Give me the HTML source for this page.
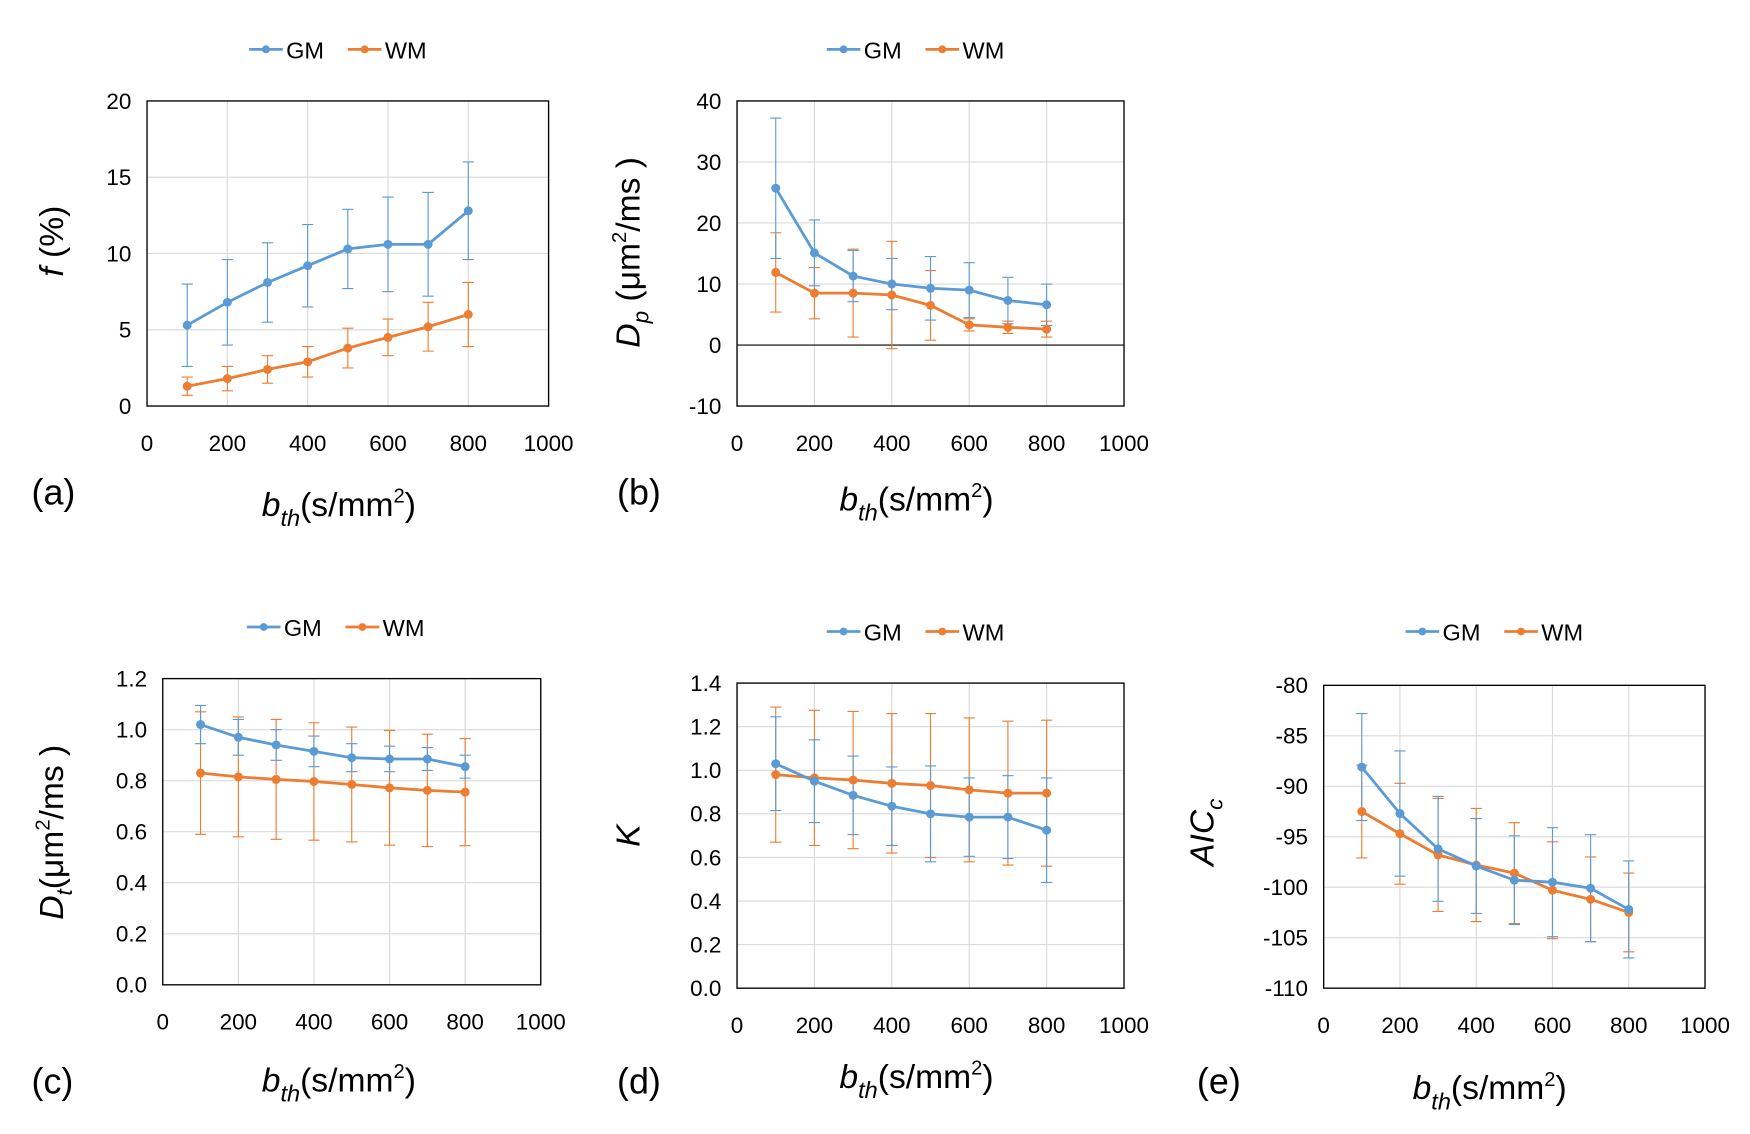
<!DOCTYPE html>
<html><head><meta charset="utf-8">
<style>
html,body{margin:0;padding:0;background:#fff;}
svg{display:block;font-family:"Liberation Sans",sans-serif;}
</style></head>
<body>
<svg id="fig" width="1750" height="1134" viewBox="0 0 1560 1011" xmlns="http://www.w3.org/2000/svg"></svg>
<script>
const xTicks = [0,200,400,600,800,1000];
const bth = [100,200,300,400,500,600,700,800];

const aGM = [5.3,6.8,8.1,9.2,10.3,10.6,10.6,12.8];
const aGMerr = [2.7,2.8,2.6,2.7,2.6,3.1,3.4,3.2];
const aWM = [1.3,1.8,2.4,2.9,3.8,4.5,5.2,6.0];
const aWMerr = [0.6,0.8,0.9,1.0,1.3,1.2,1.6,2.1];
const aTicks = [0,5,10,15,20];

const bGM = [25.7,15.1,11.3,10.0,9.3,9.0,7.3,6.6];
const bGMerr = [11.5,5.4,4.2,4.2,5.2,4.5,3.8,3.4];
const bWM = [11.9,8.5,8.5,8.2,6.5,3.3,2.9,2.6];
const bWMerr = [6.5,4.2,7.2,8.8,5.7,1.0,1.0,1.3];
const bTicks = [-10,0,10,20,30,40];

const cGM = [1.02,0.97,0.94,0.915,0.89,0.885,0.885,0.855];
const cGMerr = [0.075,0.07,0.06,0.06,0.055,0.05,0.045,0.045];
const cWM = [0.83,0.815,0.805,0.797,0.785,0.772,0.762,0.755];
const cWMerr = [0.24,0.235,0.235,0.23,0.225,0.225,0.22,0.21];
const cTicks = ["0.0","0.2","0.4","0.6","0.8","1.0","1.2"];

const dGM = [1.03,0.95,0.885,0.835,0.80,0.785,0.785,0.725];
const dGMerr = [0.215,0.19,0.18,0.18,0.22,0.18,0.19,0.24];
const dWM = [0.98,0.965,0.955,0.94,0.93,0.91,0.895,0.895];
const dWMerr = [0.31,0.31,0.315,0.32,0.33,0.33,0.33,0.335];
const dTicks = ["0.0","0.2","0.4","0.6","0.8","1.0","1.2","1.4"];

const eGM = [-88.1,-92.7,-96.2,-97.9,-99.3,-99.5,-100.1,-102.2];
const eGMerr = [5.3,6.2,5.2,4.7,4.4,5.4,5.3,4.8];
const eWM = [-92.5,-94.7,-96.8,-97.8,-98.6,-100.3,-101.2,-102.5];
const eWMerr = [4.6,5.0,5.6,5.6,5.0,4.8,4.2,3.9];
const eTicks = [-110,-105,-100,-95,-90,-85,-80];

const NS = "http://www.w3.org/2000/svg";
const svg = document.getElementById('fig');
const BLUE = "#5B9BD5", ORANGE = "#ED7D31";
function mk(tag, attrs, parent){
  const e = document.createElementNS(NS, tag);
  for (const k in attrs) e.setAttribute(k, attrs[k]);
  (parent||svg).appendChild(e);
  return e;
}

function panel(p){
  const g = mk('g', {});
  
  
  const x0=p.box[0], x1=p.box[1], y0=p.box[2], y1=p.box[3];
  const ticks = p.ticks.map(Number);
  const ymin = ticks[0], ymax = ticks[ticks.length-1];
  const X = v => x0 + (v - 0) / 1000 * (x1 - x0);
  const Y = v => y1 - (v - ymin) / (ymax - ymin) * (y1 - y0);
  // gridlines
  xTicks.forEach(t => {
    if (t===0||t===1000) return;
    const l = mk('line', {x1:X(t),x2:X(t),y1:y0,y2:y1,stroke:"#d9d9d9","stroke-width":1}, g);
    
    
  });
  p.ticks.forEach(t => {
    const v = Number(t);
    if (v!==ymin && v!==ymax) {
      const l = mk('line', {x1:x0,x2:x1,y1:Y(v),y2:Y(v),stroke: v===0 && ymin<0 ? "#000" : "#d9d9d9","stroke-width":1}, g);
      
      
    }
    const tx = mk('text', {x:x0-14, y:Y(v)+7, "text-anchor":"end","font-size":20,fill:"#000"}, g);
    tx.textContent = t;
    
    
  });
  xTicks.forEach(t => {
    const tx = mk('text', {x:X(t), y:y1+40, "text-anchor":"middle","font-size":20,fill:"#000"}, g);
    tx.textContent = t;
    
    
  });
  const box = mk('rect', {x:x0,y:y0,width:x1-x0,height:y1-y0,fill:"none",stroke:"#000","stroke-width":1.2}, g);
  
  

  [[p.wm,p.wmErr,ORANGE,'wm'],[p.gm,p.gmErr,BLUE,'gm']].forEach(([vals,errs,col,nm]) => {
    vals.forEach((v,i) => {
      const x = X(bth[i]), ya = Y(v+errs[i]), yb = Y(v-errs[i]);
      const eb = mk('path', {d:`M${x},${ya}V${yb}M${x-5},${ya}H${x+5}M${x-5},${yb}H${x+5}`, stroke:col,"stroke-width":1,fill:"none"}, g);
      
      
    });
  });
  [[p.wm,ORANGE,'wm'],[p.gm,BLUE,'gm']].forEach(([vals,col,nm]) => {
    const d = vals.map((v,i) => (i?'L':'M') + X(bth[i]) + ',' + Y(v)).join('');
    const ln = mk('path', {d:d, stroke:col,"stroke-width":2.5,fill:"none"}, g);
    
    
    vals.forEach((v,i) => {
      const c = mk('circle', {cx:X(bth[i]), cy:Y(v), r:4, fill:col}, g);
      
      
    });
  });
  // legend
  const lg = mk('g', {}, g);
  
  
  [[BLUE,'GM',p.leg[0]],[ORANGE,'WM',p.leg[0]+88]].forEach(([col,lab,lx]) => {
    const ly = p.leg[1];
    mk('line', {x1:lx,x2:lx+30,y1:ly,y2:ly,stroke:col,"stroke-width":2.5}, lg);
    mk('circle', {cx:lx+15,cy:ly,r:3.5,fill:col}, lg);
    const t = mk('text', {x:lx+33,y:ly+8,"font-size":21,fill:"#000"}, lg);
    t.textContent = lab;
    
    
  });
  // panel letter
  const pl = mk('text', {x:p.letter[0], y:p.letter[1], "font-size":32, fill:"#000"}, g);
  pl.textContent = '(' + p.id + ')';
  
  
  // x title
  const xt = mk('text', {x:p.xt[0], y:p.xt[1], "text-anchor":"middle","font-size":30,fill:"#000"}, g);
  xt.innerHTML = '<tspan font-style="italic">b</tspan><tspan font-style="italic" font-size="21" dy="9">th</tspan><tspan dy="-9">(s/mm</tspan><tspan font-size="18" dy="-12">2</tspan><tspan dy="12">)</tspan>';
  
  
  // y title
  const yt = mk('text', {x:0,y:0,"text-anchor":"middle","font-size":30,fill:"#000",transform:`translate(${p.yt[0]},${p.yt[1]}) rotate(-90)`}, g);
  yt.innerHTML = p.ylab;
  
  
}

panel({id:'a', box:[131,489,90,362], ticks:aTicks, gm:aGM, gmErr:aGMerr, wm:aWM, wmErr:aWMerr,
  leg:[222,44], letter:[28,450], xt:[302,460], yt:[56,215],
  ylab:'<tspan font-style="italic">f</tspan> (%)'});
panel({id:'b', box:[657,1002,90,362], ticks:bTicks, gm:bGM, gmErr:bGMerr, wm:bWM, wmErr:bWMerr,
  leg:[737,44], letter:[550,450], xt:[817,455], yt:[570,225],
  ylab:'<tspan font-style="italic">D</tspan><tspan font-style="italic" font-size="20" dy="8">p</tspan><tspan dy="-8"> (μm</tspan><tspan font-size="18" dy="-12">2</tspan><tspan dy="12">/ms )</tspan>'});
panel({id:'c', box:[145,482,605,878], ticks:cTicks, gm:cGM, gmErr:cGMerr, wm:cWM, wmErr:cWMerr,
  leg:[220,559], letter:[28,975], xt:[302,973], yt:[56,742],
  ylab:'<tspan font-style="italic">D</tspan><tspan font-style="italic" font-size="20" dy="8">t</tspan><tspan dy="-8">(μm</tspan><tspan font-size="18" dy="-12">2</tspan><tspan dy="12">/ms )</tspan>'});
panel({id:'d', box:[657,1002,609,881], ticks:dTicks, gm:dGM, gmErr:dGMerr, wm:dWM, wmErr:dWMerr,
  leg:[737,563], letter:[550,975], xt:[817,970], yt:[570,745],
  ylab:'<tspan font-style="italic">K</tspan>'});
panel({id:'e', box:[1180,1520,611,881], ticks:eTicks, gm:eGM, gmErr:eGMerr, wm:eWM, wmErr:eWMerr,
  leg:[1253,563], letter:[1067,975], xt:[1328,980], yt:[1082,742],
  ylab:'<tspan font-style="italic">AIC</tspan><tspan font-style="italic" font-size="20" dy="8">c</tspan>'});
</script>
</body></html>
